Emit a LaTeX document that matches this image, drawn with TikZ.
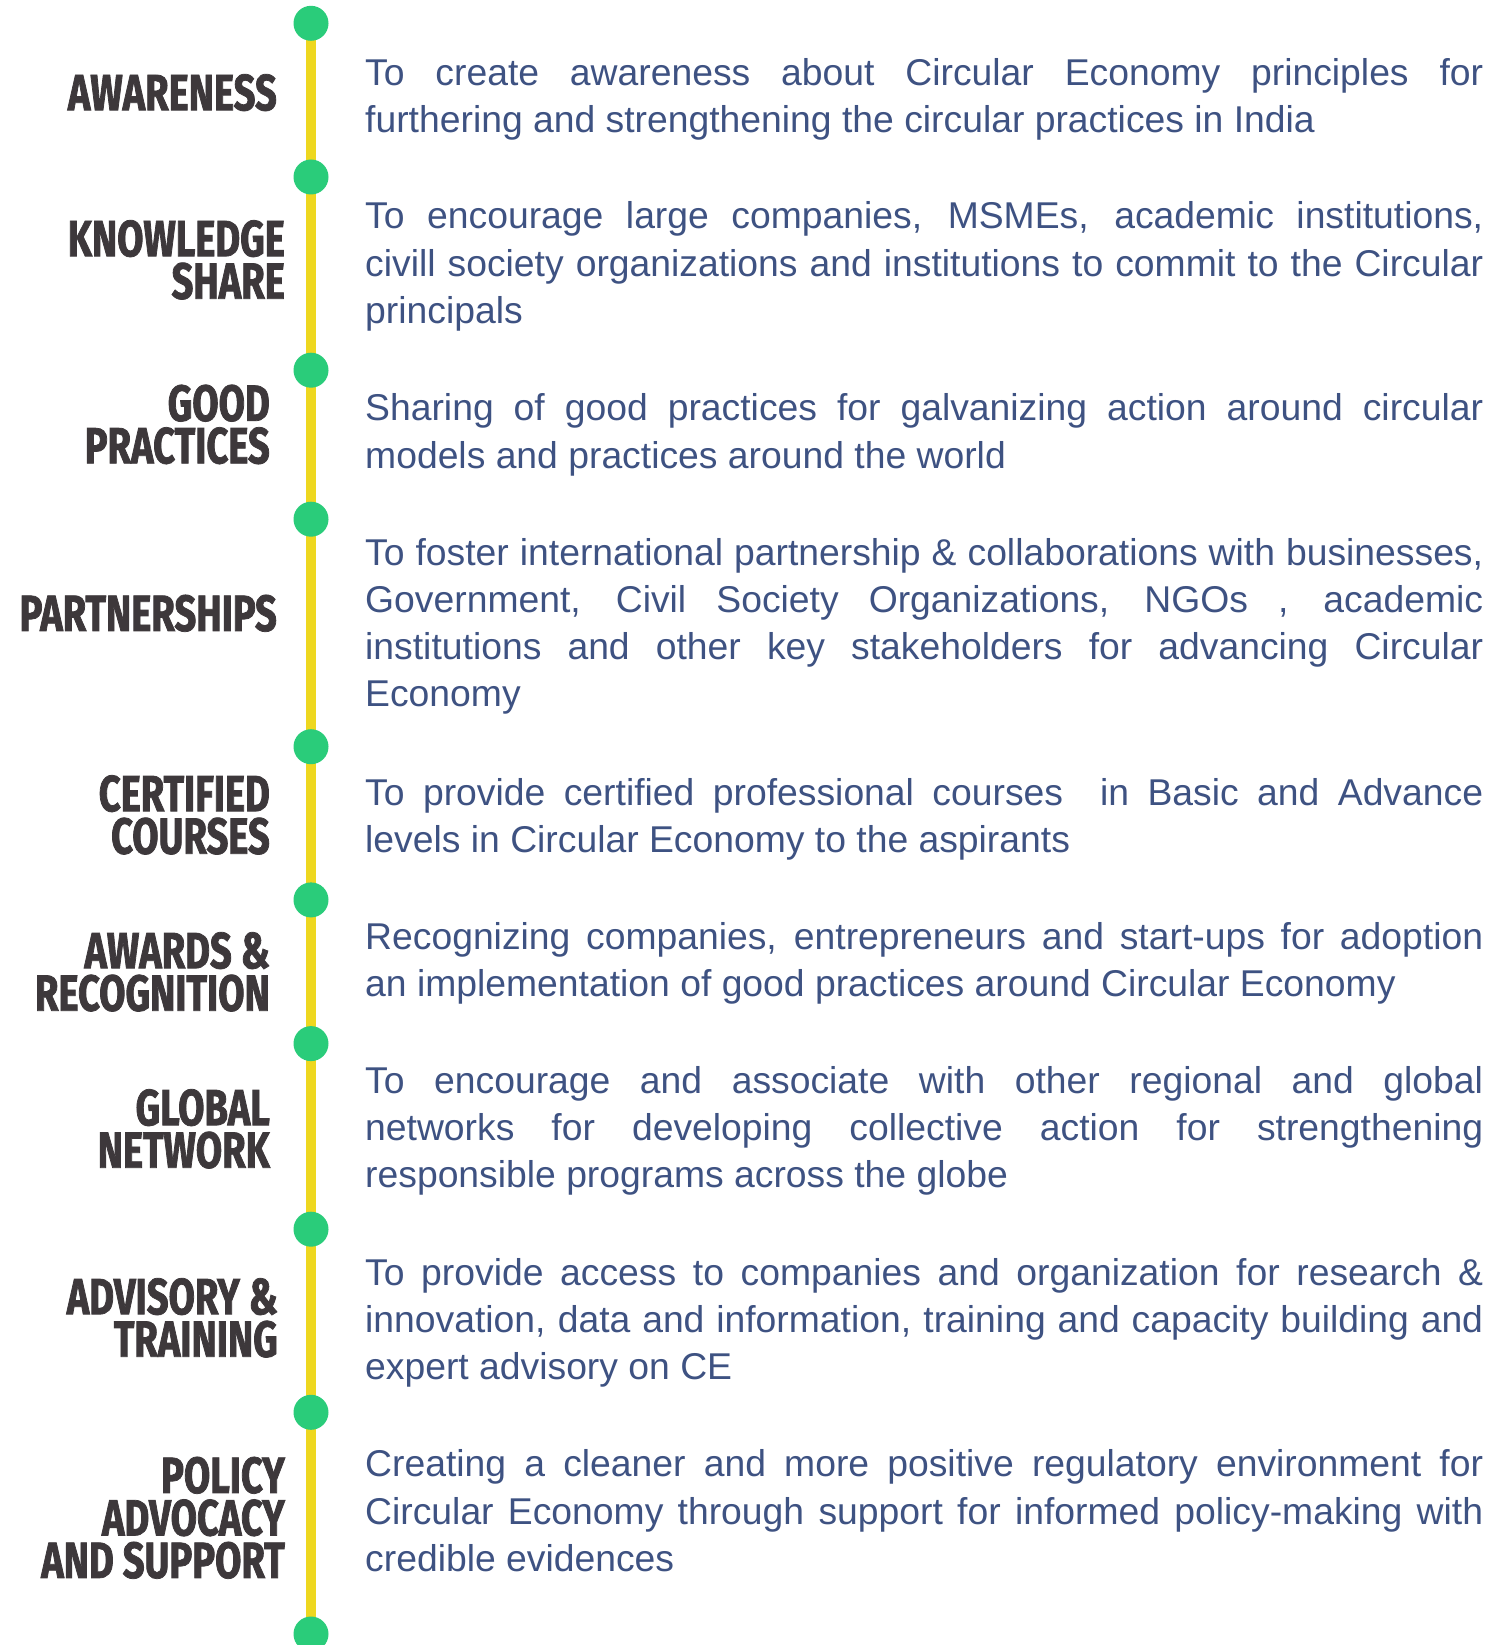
\documentclass[tikz,border=0pt]{standalone}
\usepackage{fontspec}
\setmainfont{Liberation Sans}
\newfontfamily\headfont[FakeStretch=0.75, FakeBold=1.5]{Fira Sans}
\usetikzlibrary{backgrounds}
\definecolor{headgray}{RGB}{61,56,59}
\definecolor{textblue}{RGB}{62,82,130}
\definecolor{dotgreen}{RGB}{42,204,122}
\definecolor{spineyellow}{RGB}{238,215,31}
\hyphenpenalty=10000
\exhyphenpenalty=10000
\newcommand{\headstrut}{\leavevmode\vrule width 0pt height 40pt depth 0pt\relax}
\newcommand{\descstrut}{\leavevmode\vrule width 0pt height 30pt depth 0pt\relax}
\begin{document}
\begin{tikzpicture}[x=1pt, y=-1pt,
    dot/.style={circle, fill=dotgreen, minimum size=35pt, inner sep=0pt},
    spine/.style={spineyellow, line width=10.7pt},
    head/.style={anchor=north east, inner sep=0pt, align=right, text=headgray,
        font=\headfont\bfseries\fontsize{50.8}{42.5}\selectfont},
    desc/.style={anchor=north west, inner sep=0pt, text width=1118pt, align=justify, text=textblue,
        font=\fontsize{37.3}{47.2}\selectfont}]
    \useasboundingbox (0,0) rectangle (1504,1645);
    % timeline dots
    \foreach \y [count=\i] in {23.3,177,370.2,519.2,746.7,899.9,1043.6,1229.2,1412.3,1634}
        \node[dot] (d\i) at (311,\y) {};
    \begin{scope}[on background layer]
        \fill[white] (0,0) rectangle (1504,1645);
        \draw[spine] (d1.center) -- (d1.center |- d10.center);
    \end{scope}
    % headings
    \node[head] (awareness) at (277,70) {\headstrut AWARENESS};
    \node[head] (knowledge) at (285,216) {\headstrut KNOWLEDGE\\SHARE};
    \node[head] (good) at (270,380.6) {\headstrut GOOD\\PRACTICES};
    \node[head] (partner) at (277,590.7) {\headstrut PARTNERSHIPS};
    \node[head] (certified) at (270,771) {\headstrut CERTIFIED\\COURSES};
    \node[head] (awards) at (270,928) {\headstrut AWARDS \&\\RECOGNITION};
    \node[head] (global) at (270,1085) {\headstrut GLOBAL\\NETWORK};
    \node[head] (advisory) at (278,1274) {\headstrut ADVISORY \&\\TRAINING};
    \node[head] (policy) at (285,1452.7) {\headstrut POLICY\\ADVOCACY\\AND SUPPORT};
    % descriptions
    \node[desc] (t1) at (365,55) {\descstrut To create awareness about Circular Economy principles for\linebreak furthering and strengthening the circular practices in India};
    \node[desc] (t2) at (365,198.7) {\descstrut To encourage large companies, MSMEs, academic institutions,\linebreak civill society organizations and institutions to commit to the Circular\linebreak principals};
    \node[desc] (t3) at (365,390.6) {\descstrut Sharing of good practices for galvanizing action around circular\linebreak models and practices around the world};
    \node[desc] (t4) at (365,535) {\descstrut To foster international partnership \& collaborations with businesses,\linebreak Government, Civil Society Organizations, NGOs , academic\linebreak institutions and other key stakeholders for advancing Circular\linebreak Economy};
    \node[desc] (t5) at (365,775.5) {\descstrut To provide certified professional courses\ \ in Basic and Advance\linebreak levels in Circular Economy to the aspirants};
    \node[desc] (t6) at (365,919.2) {\descstrut Recognizing companies, entrepreneurs and start-ups for adoption\linebreak an implementation of good practices around Circular Economy};
    \node[desc] (t7) at (365,1062.9) {\descstrut To encourage and associate with other regional and global\linebreak networks for developing collective action for strengthening\linebreak responsible programs across the globe};
    \node[desc] (t8) at (365,1254.8) {\descstrut To provide access to companies and organization for research \&\linebreak innovation, data and information, training and capacity building and\linebreak expert advisory on CE};
    \node[desc] (t9) at (365,1446.7) {\descstrut Creating a cleaner and more positive regulatory environment for\linebreak Circular Economy through support for informed policy-making with\linebreak credible evidences};
\end{tikzpicture}
\end{document}
